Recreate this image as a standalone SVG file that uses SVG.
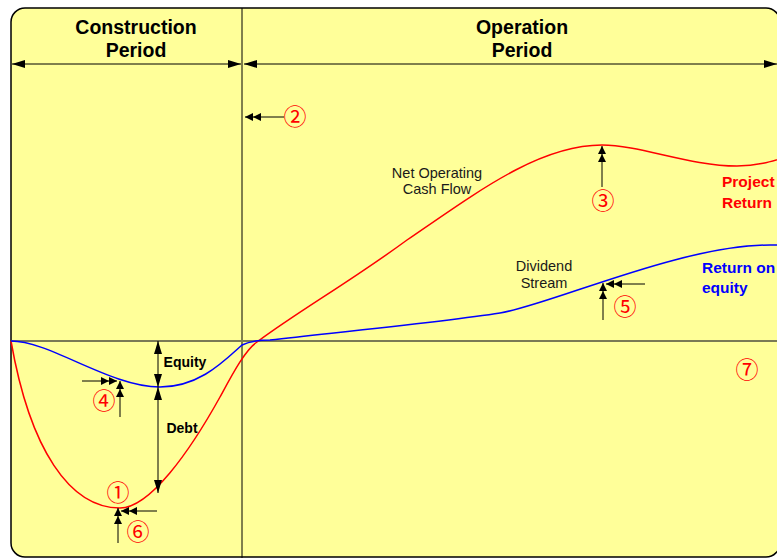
<svg xmlns="http://www.w3.org/2000/svg" width="777" height="558" viewBox="0 0 777 558">
<defs>
<style>
.hdr{font-family:"Liberation Sans",Arial,sans-serif;font-weight:bold;font-size:19.5px;fill:#000;text-anchor:middle}
.lbl{font-family:"Liberation Sans",Arial,sans-serif;font-size:14.5px;fill:#1a1a1a;text-anchor:middle}
.blbl{font-family:"Liberation Sans",Arial,sans-serif;font-weight:bold;font-size:14px;fill:#000;text-anchor:middle}
.rl{font-family:"Liberation Sans",Arial,sans-serif;font-weight:bold;font-size:15.5px;fill:#ff0000}
.bl{font-family:"Liberation Sans",Arial,sans-serif;font-weight:bold;font-size:15.5px;fill:#0000ff}
.num{font-family:"Noto Sans CJK JP","DejaVu Sans",sans-serif;font-size:23px;fill:#ff0000;text-anchor:middle}
.ln{stroke:#000;stroke-width:1;fill:none}
.dim{stroke:#000;stroke-width:1;fill:none;marker-start:url(#ah);marker-end:url(#ah)}
.ann{stroke:#000;stroke-width:1;fill:none;marker-end:url(#dbl)}
</style>
<marker id="ah" viewBox="0 0 13 8" refX="13" refY="4" markerWidth="13" markerHeight="8" markerUnits="userSpaceOnUse" orient="auto-start-reverse">
<path d="M0,0 L13,4 L0,8 Z" fill="#000"/>
</marker>
<marker id="dbl" viewBox="0 0 16 8" refX="16" refY="4" markerWidth="16" markerHeight="8" markerUnits="userSpaceOnUse" orient="auto">
<path d="M0,0 L8,4 L0,8 Z M8,0 L16,4 L8,8 Z" fill="#000"/>
</marker>
</defs>
<rect x="0" y="0" width="777" height="558" fill="#fff"/>
<g id="frame">
<rect x="11" y="8" width="769" height="549" rx="14" ry="14" fill="#ffff99" stroke="#000" stroke-width="1.5"/>
<line x1="242" y1="8" x2="242" y2="558" class="ln"/>
<line x1="11" y1="341" x2="781" y2="341" stroke="#7a7a55" stroke-width="2"/>
</g>
<g id="construction-period">
<text class="hdr" x="136" y="34">Construction</text>
<text class="hdr" x="136" y="57">Period</text>
</g>
<g id="operation-period">
<text class="hdr" x="522" y="34">Operation</text>
<text class="hdr" x="522" y="57">Period</text>
</g>
<g id="curves">
<path id="project-return-curve" d="M11,341 C30,450 70,508 120,508 C150,508 190,451 220,397 C232,375 245,350 257,342 C300,310 350,282 407,240 C480,190 540,145 602,145 C640,145 690,166 737,166 C757,166 770,162 790,156" fill="none" stroke="#ff0000" stroke-width="1.5"/>
<path id="equity-return-curve" d="M11,341 C50,341 110,387 160,387 C200,387 225,360 242,345 C250,341 258,340 270,340 C360,330 450,321 500,313 C550,305 680,245 770,245 L790,245" fill="none" stroke="#0000ff" stroke-width="1.5"/>
</g>
<g id="connectors">
<line class="dim" x1="12" y1="64" x2="241" y2="64"/>
<line class="dim" x1="244" y1="64" x2="777" y2="64"/>
<line class="dim" x1="158" y1="341" x2="158" y2="387"/>
<line class="dim" x1="158" y1="387" x2="158" y2="493"/>
<line class="ann" x1="284" y1="117" x2="245" y2="117"/>
<line class="ann" x1="602" y1="187" x2="602" y2="146"/>
<line class="ann" x1="82" y1="381" x2="117" y2="381"/>
<line class="ann" x1="120" y1="417" x2="120" y2="381"/>
<line class="ann" x1="603" y1="320" x2="603" y2="283"/>
<line class="ann" x1="645" y1="284" x2="606" y2="284"/>
<line class="ann" x1="157" y1="511" x2="121" y2="511"/>
<line class="ann" x1="118" y1="543" x2="118" y2="508"/>
</g>
<g id="net-operating-cash-flow">
<text class="lbl" x="437" y="178">Net Operating</text>
<text class="lbl" x="437" y="194">Cash Flow</text>
</g>
<g id="dividend-stream">
<text class="lbl" x="544" y="271">Dividend</text>
<text class="lbl" x="544" y="288">Stream</text>
</g>
<g id="equity-label"><text class="blbl" x="185" y="367">Equity</text></g>
<g id="debt-label"><text class="blbl" x="182" y="433">Debt</text></g>
<g id="project-return-label">
<text class="rl" x="722" y="187">Project</text>
<text class="rl" x="722" y="208">Return</text>
</g>
<g id="return-on-equity-label">
<text class="bl" x="702" y="273">Return on</text>
<text class="bl" x="702" y="293">equity</text>
</g>
<g id="markers">
<text class="num" x="118" y="501">①</text>
<text class="num" x="295" y="125">②</text>
<text class="num" x="603" y="209">③</text>
<text class="num" x="104" y="409">④</text>
<text class="num" x="625" y="315">⑤</text>
<text class="num" x="138" y="540">⑥</text>
<text class="num" x="747" y="378">⑦</text>
</g>
</svg>
